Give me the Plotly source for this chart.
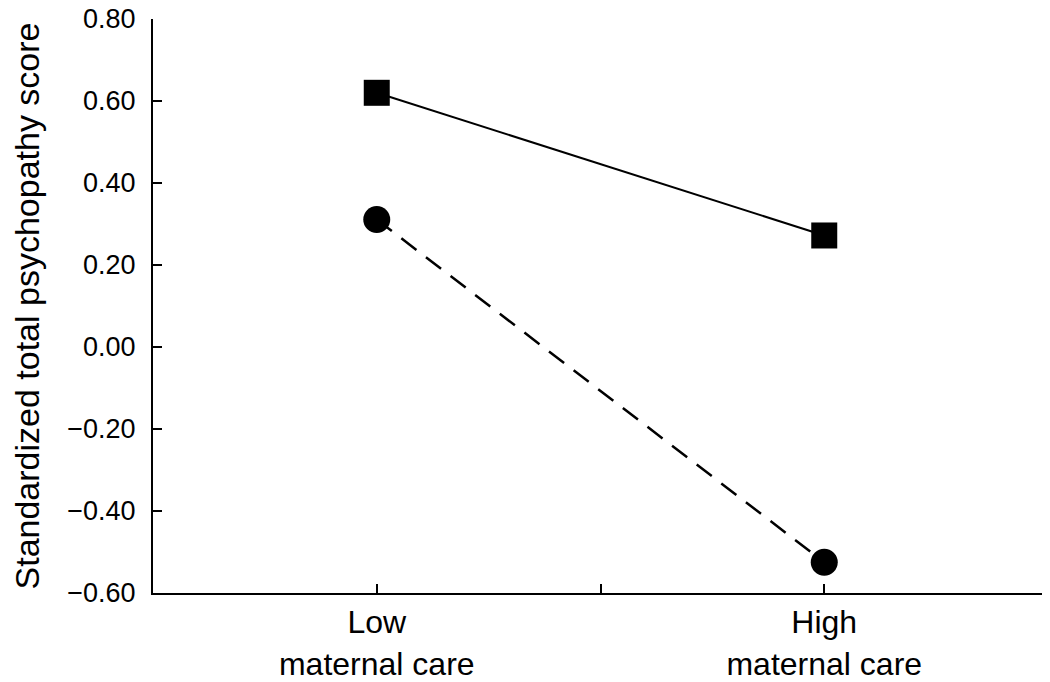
import plotly.graph_objects as go

categories = ["Low<br>maternal care", "High<br>maternal care"]
cat_pos = [1, 3]
series_square = [0.62, 0.272]
series_circle = [0.311, -0.525]
y_ticks = [0.8, 0.6, 0.4, 0.2, 0.0, -0.2, -0.4, -0.6]
y_ticktext = ["0.80", "0.60", "0.40", "0.20", "0.00", "\u22120.20", "\u22120.40", "\u22120.60"]

font_family = "Liberation Sans, Arial, sans-serif"

fig = go.Figure()
fig.add_trace(go.Scatter(
    x=cat_pos, y=series_square, mode="lines+markers",
    line=dict(color="black", width=2),
    marker=dict(symbol="square", size=26, color="black"),
    showlegend=False, name="Square group"))
fig.add_trace(go.Scatter(
    x=cat_pos, y=series_circle, mode="lines+markers",
    line=dict(color="black", width=2.5, dash="19px,12px"),
    marker=dict(symbol="circle", size=27, color="black"),
    showlegend=False, name="Circle group"))

fig.update_layout(
    width=1042, height=682,
    margin=dict(l=145, r=2, t=11, b=97),
    paper_bgcolor="white", plot_bgcolor="white",
    font=dict(family=font_family, color="black", size=27),
)
fig.update_xaxes(
    range=[0, 4], tickvals=[1, 2, 3, 4],
    ticktext=[categories[0], "", categories[1], ""],
    showline=True, linecolor="black", linewidth=2,
    ticks="inside", ticklen=9, tickwidth=1.5, tickcolor="black",
    showgrid=False, zeroline=False, automargin=False,
    ticklabelstandoff=0, ticklabeloverflow="allow",
    tickfont=dict(size=32, family=font_family, color="black"),
)
fig.update_yaxes(
    range=[-0.6, 0.8], tickvals=y_ticks, ticktext=y_ticktext,
    showline=True, linecolor="black", linewidth=2,
    ticks="inside", ticklen=9, tickwidth=1.5, tickcolor="black",
    showgrid=False, zeroline=False, automargin=False,
    ticklabelstandoff=10, ticklabeloverflow="allow",
    tickfont=dict(size=27, family=font_family, color="black"),
    title=dict(text="Standardized total psychopathy score",
               font=dict(size=34, family=font_family, color="black"),
               standoff=26),
)

fig.write_html("out.html")
